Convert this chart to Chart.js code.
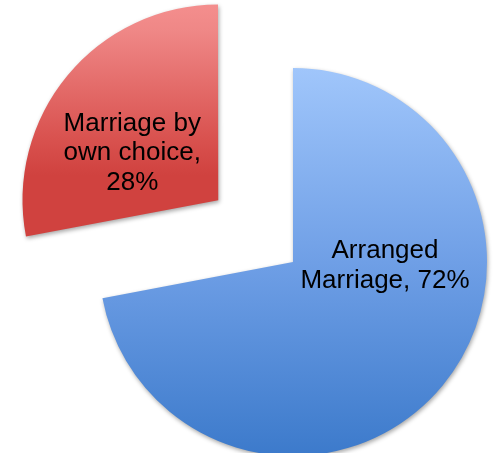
<!DOCTYPE html>
<html>
<head>
<meta charset="utf-8">
<script src="https://cdn.jsdelivr.net/npm/chart.js@4"></script>
<style>
  body { margin: 0; background: #fff; }
  #wrap { width: 500px; height: 453px; }
</style>
</head>
<body>
<div id="wrap"><canvas id="myChart" width="500" height="453"></canvas></div>
<script>
const categories = ["Arranged Marriage", "Marriage by own choice"];
const values = [72, 28];
const labelLines = [["Arranged", "Marriage, 72%"], ["Marriage by", "own choice,", "28%"]];

// gradient stops per slice, light at top to dark at bottom
const gradientStops = [
  [[0, "#a0c6fb"], [0.5, "#6f9fe6"], [1, "#3c7acb"]],
  [[0, "#ff9e9e"], [0.38, "#ef8786"], [0.84, "#d9524f"], [1, "#d0423f"]],
];
// Chart.js v4 moves an arc by offset / 4
const explode = [0, 97];
const labelNudge = [[92, 4], [-86, -47]];

const R = 194;

function fillFor(context) {
  const chart = context.chart;
  const area = chart.chartArea;
  const i = context.dataIndex;
  if (!area) return gradientStops[i][0][1];
  const cy = (area.top + area.bottom) / 2;
  let y0, y1;
  if (i === 0) {
    y0 = cy - R;
    y1 = cy + R;
  } else {
    y0 = cy - R - 62;
    y1 = cy - 25;
  }
  const g = chart.ctx.createLinearGradient(0, y0, 0, y1);
  gradientStops[i].forEach(([p, c]) => g.addColorStop(p, c));
  return g;
}

const sliceLabels = {
  id: "sliceLabels",
  beforeDatasetsDraw(chart) {
    const ctx = chart.ctx;
    ctx.save();
    ctx.shadowColor = "rgba(0,0,0,0.35)";
    ctx.shadowBlur = 4;
    ctx.shadowOffsetX = 1;
    ctx.shadowOffsetY = 2;
  },
  afterDatasetsDraw(chart) {
    const ctx = chart.ctx;
    ctx.restore();
    const meta = chart.getDatasetMeta(0);
    ctx.save();
    ctx.font = "26px 'Liberation Sans', Arial, sans-serif";
    ctx.fillStyle = "#000";
    ctx.textAlign = "center";
    ctx.textBaseline = "middle";
    meta.data.forEach((arc, i) => {
      const mid = (arc.startAngle + arc.endAngle) / 2;
      const ox = arc.x + Math.cos(mid) * explode[i];
      const oy = arc.y + Math.sin(mid) * explode[i];
      const lines = labelLines[i];
      const lh = 29.5;
      const x = ox + labelNudge[i][0];
      const y = oy + labelNudge[i][1] - (lines.length - 1) * lh / 2;
      lines.forEach((t, k) => ctx.fillText(t, x, y + k * lh));
    });
    ctx.restore();
  },
};

const config = {
  type: "pie",
  data: {
    labels: categories,
    datasets: [
      {
        data: values,
        backgroundColor: fillFor,
        borderWidth: 0,
        offset: explode.map((d) => d * 4),
        clip: false,
      },
    ],
  },
  options: {
    responsive: false,
    animation: false,
    radius: R,
    cutout: "0%",
    layout: { padding: { left: 86, top: 71, right: 0, bottom: 0 } },
    plugins: {
      legend: { display: false },
      tooltip: { enabled: false },
    },
  },
  plugins: [sliceLabels],
};

const myChart = new Chart(document.getElementById("myChart"), config);
</script>
</body>
</html>
